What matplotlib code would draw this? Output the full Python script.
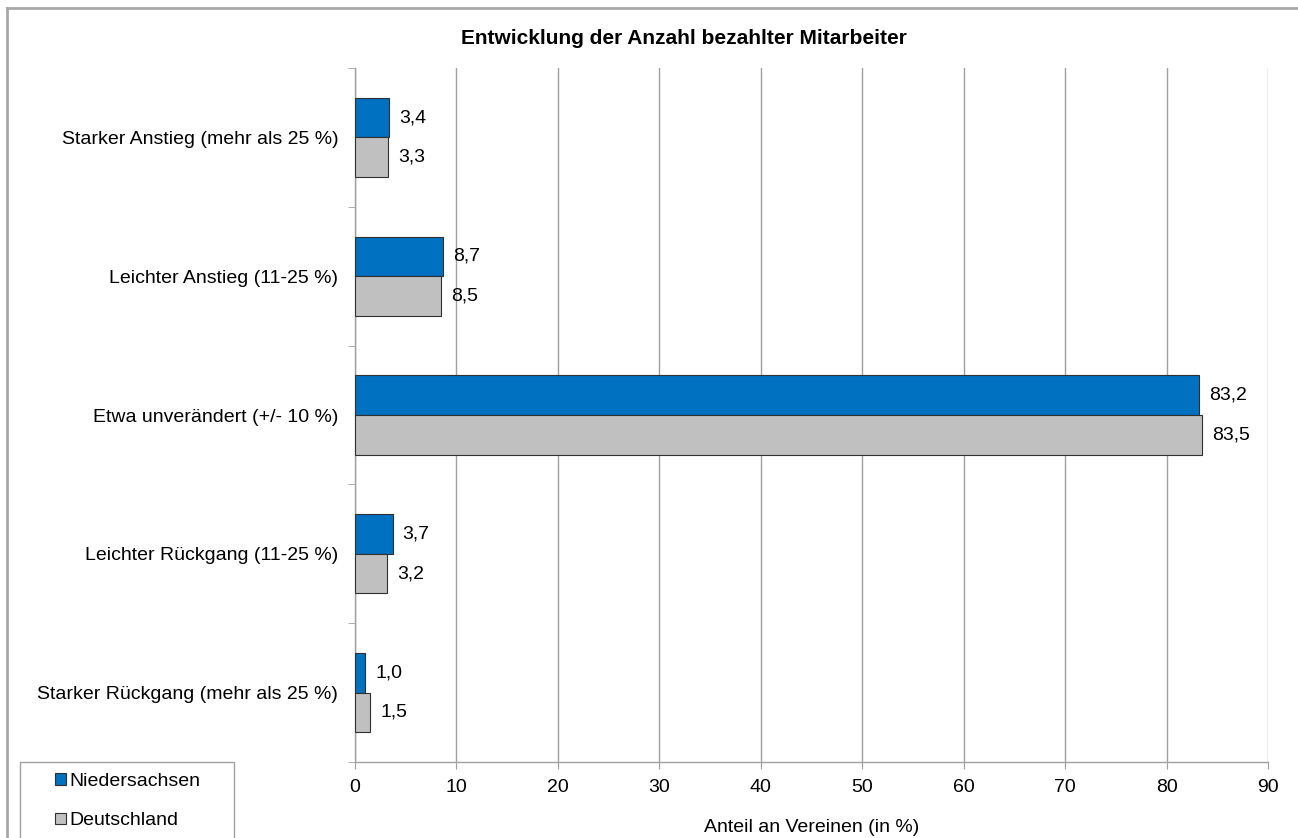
import matplotlib.pyplot as plt
from matplotlib.lines import Line2D
from matplotlib.patches import Rectangle
import numpy as np

plt.rcParams['font.family'] = ['Liberation Sans', 'DejaVu Sans']

categories = ['Starker Anstieg (mehr als 25 %)', 'Leichter Anstieg (11-25 %)',
              'Etwa unverändert (+/- 10 %)', 'Leichter Rückgang (11-25 %)',
              'Starker Rückgang (mehr als 25 %)']
niedersachsen = [3.4, 8.7, 83.2, 3.7, 1.0]
deutschland = [3.3, 8.5, 83.5, 3.2, 1.5]
series_names = ['Niedersachsen', 'Deutschland']
xticks = list(range(0, 100, 10))

blue = '#0070C0'
grey = '#C0C0C0'
axis_grey = '#A0A0A0'
fs = 14

W, H = 1298, 838
fig = plt.figure(figsize=(W / 100, H / 100), dpi=100)
ax = fig.add_axes([355 / W, 1 - 762 / H, (1268 - 355) / W, (762 - 68) / H])

y = np.arange(len(categories))
h = 0.285
b1 = ax.barh(y - h / 2, niedersachsen, height=h, color=blue, edgecolor='#303030',
             linewidth=0.8, label=series_names[0], zorder=3)
b2 = ax.barh(y + h / 2, deutschland, height=h, color=grey, edgecolor='#303030',
             linewidth=0.8, label=series_names[1], zorder=3)

for bars, vals in ((b1, niedersachsen), (b2, deutschland)):
    for bar, v in zip(bars, vals):
        ax.text(v + 1.0, bar.get_y() + bar.get_height() / 2, f'{v:.1f}'.replace('.', ','),
                va='center', ha='left', fontsize=fs, color='black')

ax.set_ylim(len(categories) - 0.5, -0.5)
ax.set_xlim(0, 90)
ax.set_xticks(xticks)
ax.set_xticklabels([str(t) for t in xticks], fontsize=fs)
ax.set_yticks(y)
ax.set_yticklabels(categories, fontsize=fs)
ax.set_yticks(np.arange(-0.5, len(categories), 1), minor=True)
ax.tick_params(axis='y', which='major', length=0, pad=12)
ax.tick_params(axis='y', which='minor', length=5, color=axis_grey, direction='out')
ax.tick_params(axis='x', length=5, color=axis_grey, direction='out', pad=7)
ax.grid(axis='x', color=axis_grey, linewidth=1, zorder=0)
ax.set_axisbelow(True)

for s in ('top', 'right'):
    ax.spines[s].set_visible(False)
for s in ('left', 'bottom'):
    ax.spines[s].set_color(axis_grey)
    ax.spines[s].set_linewidth(1)

ax.set_xlabel('Anteil an Vereinen (in %)', fontsize=fs, labelpad=16.5)
fig.text(684 / W, 1 - 38 / H, 'Entwicklung der Anzahl bezahlter Mitarbeiter',
         ha='center', va='center', fontsize=15, fontweight='bold')

# legend box drawn separately (runs off the bottom edge)
fig.add_artist(Rectangle((20 / W, -0.02), (234 - 20) / W, 0.02 + 1 - 762 / H,
                         transform=fig.transFigure, facecolor='white',
                         edgecolor=axis_grey, linewidth=1))
leg = fig.legend(handles=[b1, b2], loc='upper left',
                 bbox_to_anchor=(55 / W, 1 - 773 / H), fontsize=fs,
                 frameon=False, handlelength=0.55, handleheight=0.55,
                 handletextpad=0.2, labelspacing=1.15, borderpad=0, borderaxespad=0)

# outer chart frame (top and left edges visible)
fig.add_artist(Line2D([7 / W, 7 / W], [0, 1 - 8 / H], color='#A8A8A8', linewidth=2,
                      transform=fig.transFigure))
fig.add_artist(Line2D([7 / W, 1], [1 - 8 / H, 1 - 8 / H], color='#A8A8A8', linewidth=2,
                      transform=fig.transFigure))

fig.savefig('out.png', dpi=100)
